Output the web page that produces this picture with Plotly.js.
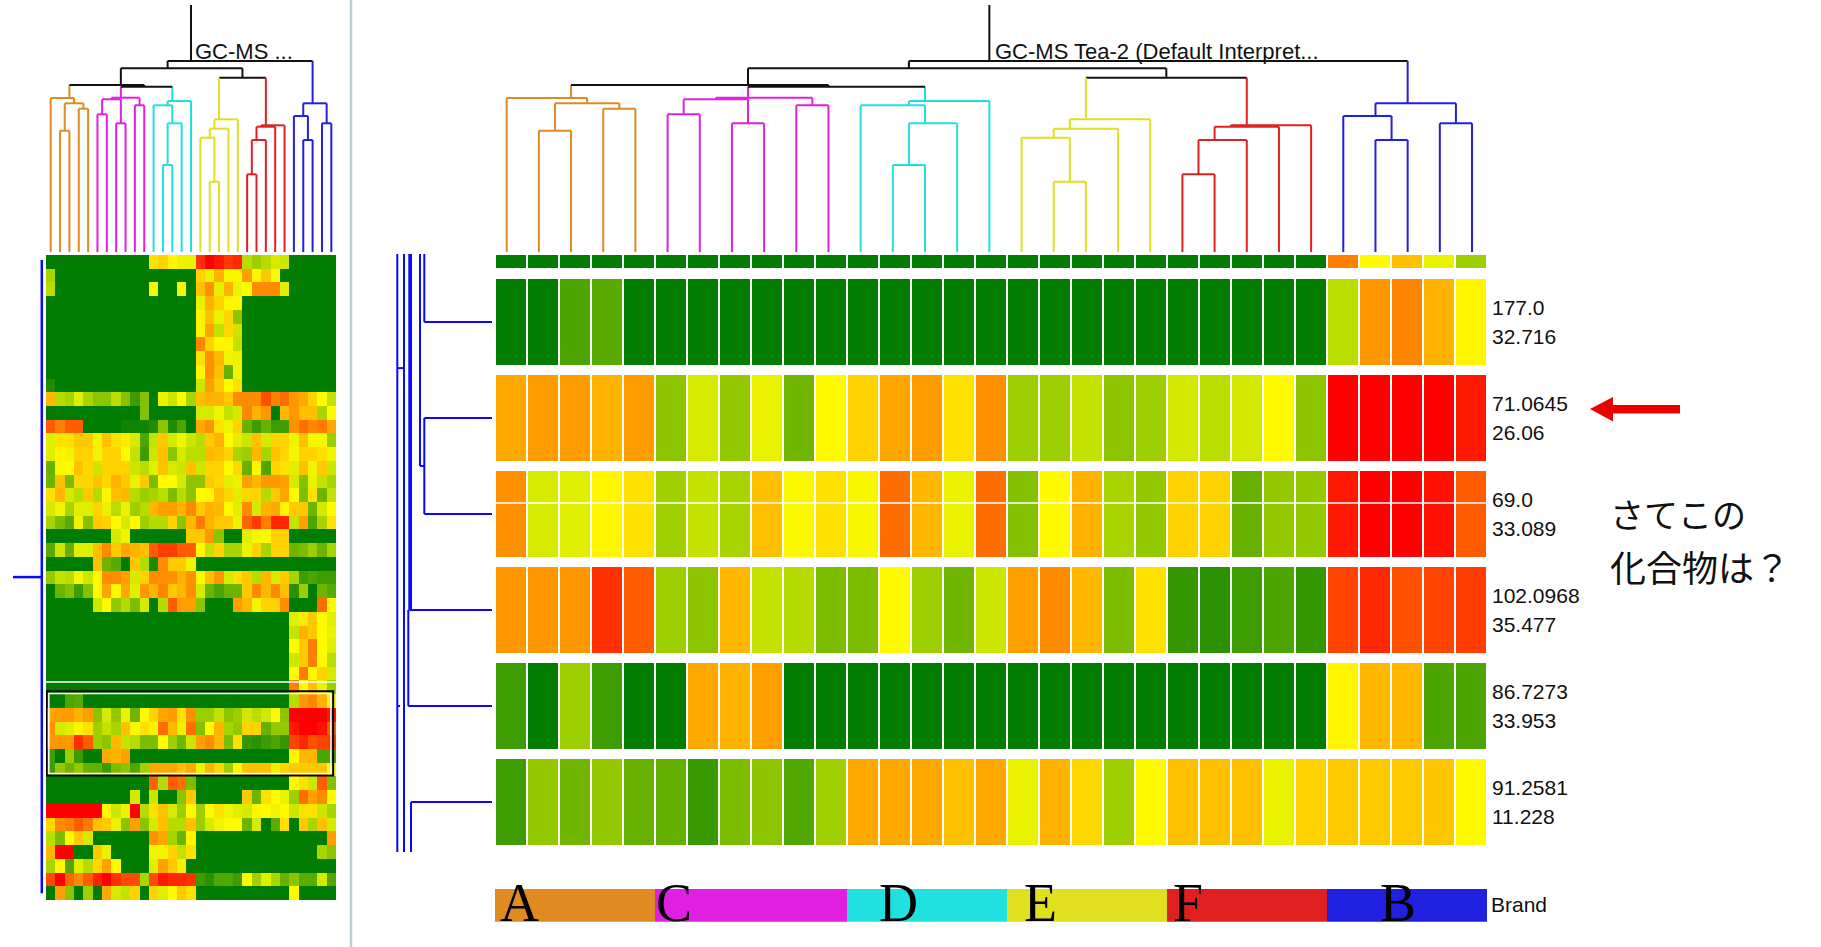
<!DOCTYPE html>
<html>
<head>
<meta charset="utf-8">
<script src="https://cdn.plot.ly/plotly-3.0.1.min.js"></script>
<style>
html,body{margin:0;padding:0;background:#fff;overflow:hidden}
#chart{width:1821px;height:947px}
</style>
</head>
<body>
<div id="chart"></div>
<script>
// ---------------- DATA ----------------
const brands = ['A', 'C', 'D', 'E', 'F', 'B'];
const brandOfColumn = [0,0,0,0,0, 1,1,1,1,1,1, 2,2,2,2,2, 3,3,3,3,3, 4,4,4,4,4, 5,5,5,5,5];
const brandColors = ['rgb(224,138,34)', 'rgb(224,32,224)', 'rgb(32,224,224)', 'rgb(224,224,32)', 'rgb(224,32,32)', 'rgb(32,32,224)'];

const mzLabels = ['177.0', '71.0645', '69.0', '102.0968', '86.7273', '91.2581'];
const rtLabels = ['32.716', '26.06', '33.089', '35.477', '33.953', '11.228'];

// colour scale (relative intensity 0..100)
const scaleValues = [0, 8, 15, 22, 30, 37, 43, 49, 55, 62, 67, 74, 79, 84, 89, 94, 100];
const scaleColors = ['rgb(0,124,0)', 'rgb(42,146,0)', 'rgb(76,165,0)', 'rgb(108,180,0)', 'rgb(140,197,0)',
  'rgb(168,212,0)', 'rgb(195,226,0)', 'rgb(224,238,0)', 'rgb(255,250,0)', 'rgb(255,215,0)', 'rgb(255,192,0)',
  'rgb(255,160,0)', 'rgb(255,140,0)', 'rgb(255,110,0)', 'rgb(255,80,0)', 'rgb(255,48,0)', 'rgb(255,0,0)'];

// main heatmap rows (31 samples)
const topStrip = [0,0,0,0,0, 0,0,0,0,0,0, 0,0,0,0,0, 0,0,0,0,0, 0,0,0,0,0, 81,55,67,51,34];
const row177 = [0,0,15,18,0, 0,0,0,0,0,0, 0,0,0,0,0, 0,0,0,0,0, 0,0,0,0,0, 41,76,80,70,56];
const row71  = [72,75,75,70,75, 30,47,32,51,23,55, 63,73,75,60,78, 34,34,43,30,34, 46,41,46,55,30, 100,100,100,100,97];
const row69  = [78,47,49,56,60, 35,43,37,67,54,60, 53,84,69,51,84, 28,55,70,37,32, 63,63,21,32,32, 97,100,100,98,87];
const row102 = [76,76,76,94,87, 34,30,69,43,40,26, 26,55,34,23,45, 74,79,69,26,60, 10,8,12,15,10, 91,95,89,91,92];
const row86  = [12,0,34,12,0, 0,72,70,74,0,0, 0,0,0,0,0, 0,0,0,0,0, 0,0,0,0,0, 56,69,69,15,15];
const row91  = [12,32,23,32,21, 20,11,26,30,16,35, 72,72,72,67,72, 51,70,62,34,55, 67,67,67,51,63, 65,65,65,66,55];

// overview heatmap: rows above and below the zoomed block
const overviewAbove = [
  [0,0,0,0,0, 0,0,0,0,0,0, 60,63,56,51,51, 94,100,97,93,95, 41,34,40,47,45, 0,0,0,0,0],
  [37,0,0,0,0, 0,0,0,0,0,0, 0,0,0,0,0, 63,51,70,53,53, 74,56,65,55,0, 0,0,0,0,0],
  [41,0,0,0,0, 0,0,0,0,0,0, 54,0,0,54,0, 67,78,50,70,52, 55,79,79,79,49, 0,0,0,0,0],
  [0,0,0,0,0, 0,0,0,0,0,0, 0,0,0,0,0, 51,70,63,56,56, 0,0,0,0,0, 0,0,0,0,0],
  [0,0,0,0,0, 0,0,0,0,0,0, 0,0,0,0,0, 56,67,51,62,30, 0,0,0,0,0, 0,0,0,0,0],
  [0,0,0,0,0, 0,0,0,0,0,0, 0,0,0,0,0, 56,73,43,62,45, 0,0,0,0,0, 0,0,0,0,0],
  [0,0,0,0,0, 0,0,0,0,0,0, 0,0,0,0,0, 80,63,56,56,43, 0,0,0,0,0, 0,0,0,0,0],
  [0,0,0,0,0, 0,0,0,0,0,0, 0,0,0,0,0, 60,78,69,52,51, 0,0,0,0,0, 0,0,0,0,0],
  [0,0,0,0,0, 0,0,0,0,0,0, 0,0,0,0,0, 56,78,67,21,52, 0,0,0,0,0, 0,0,0,0,0],
  [6,0,0,0,0, 0,0,0,0,0,0, 0,0,0,0,0, 45,74,65,55,60, 0,0,0,0,0, 0,0,0,0,0],
  [69,40,37,49,37, 30,30,41,28,12,28, 0,51,45,55,37, 67,70,70,65,79, 79,79,89,81,84, 76,72,63,55,43],
  [0,0,0,0,0, 0,0,0,0,0,28, 0,0,0,0,0, 47,47,52,43,47, 80,70,76,0,69, 76,67,67,37,55],
  [87,81,87,87,0, 0,0,0,3,3,3, 6,30,6,15,0, 72,78,60,52,63, 21,12,21,12,12, 78,84,80,82,72],
  [49,60,60,65,65, 52,67,60,58,47,15, 43,65,47,52,45, 40,65,70,55,49, 45,67,47,63,63, 52,67,53,53,34],
  [49,56,52,63,63, 52,63,63,55,43,12, 45,67,30,47,41, 41,69,67,63,37, 34,69,37,67,62, 53,63,63,60,52],
  [21,54,55,67,62, 45,63,63,63,45,41, 49,67,47,45,67, 45,63,63,55,62, 21,56,16,62,60, 49,67,52,65,45],
  [22,67,26,62,62, 67,62,70,65,51,65, 26,55,55,47,30, 30,65,62,49,51, 74,69,76,76,74, 47,28,51,43,37],
  [60,69,47,41,65, 40,56,67,69,40,34, 37,41,26,41,30, 55,56,67,62,49, 62,63,40,65,73, 55,26,60,22,43],
  [47,52,37,49,49, 63,51,41,51,34,40, 69,74,74,70,79, 65,70,69,55,49, 79,47,70,72,56, 65,65,22,47,55],
  [37,26,18,52,28, 65,63,55,47,55,34, 40,40,63,30,69, 82,70,65,65,51, 86,92,81,95,95, 43,74,15,37,60],
  [0,0,0,0,0, 0,0,47,52,0,0, 0,0,0,0,65, 65,76,30,0,0, 49,53,55,63,63, 0,0,0,0,0],
  [18,45,21,49,49, 67,79,65,73,70,67, 87,92,92,87,87, 55,43,63,37,37, 51,63,37,63,63, 22,26,34,22,37],
  [0,0,0,0,0, 67,22,18,0,65,40, 5,79,65,65,52, 0,0,0,0,0, 0,0,0,0,0, 0,0,0,0,0],
  [32,43,41,53,45, 55,79,79,74,47,63, 79,78,78,70,78, 55,67,76,47,60, 65,41,69,47,65, 37,12,15,12,12],
  [0,22,28,12,28, 55,73,56,72,49,76, 70,80,65,69,78, 47,22,15,22,22, 65,79,69,79,67, 8,34,0,22,18],
  [0,0,0,0,0, 45,55,32,40,26,47, 0,40,87,74,74, 30,0,0,0,74, 69,52,63,63,79, 0,0,0,84,55],
  [0,0,0,0,0, 0,0,0,0,0,0, 0,0,0,0,0, 0,0,0,0,0, 0,0,0,0,0, 49,58,65,55,49],
  [0,0,0,0,0, 0,0,0,0,0,0, 0,0,0,0,0, 0,0,0,0,0, 0,0,0,0,0, 43,70,65,55,51],
  [0,0,0,0,0, 0,0,0,0,0,0, 0,0,0,0,0, 0,0,0,0,0, 0,0,0,0,0, 55,65,81,55,49],
  [0,0,0,0,0, 0,0,0,0,0,0, 0,0,0,0,0, 0,0,0,0,0, 0,0,0,0,0, 45,65,81,55,41],
  [0,0,0,0,0, 0,0,0,0,0,0, 0,0,0,0,0, 0,0,0,0,0, 0,0,0,0,0, 55,82,55,63,47]
];
const overviewBelow = [
  [0,0,0,0,0, 0,0,0,0,0,0, 86,40,87,84,26, 0,0,0,0,0, 0,0,0,0,0, 55,60,45,87,28],
  [0,0,0,0,0, 0,0,0,0,47,0, 45,0,0,30,65, 0,0,0,0,0, 65,22,60,55,51, 34,84,74,79,55],
  [100,100,100,100,100, 100,55,45,51,100,40, 60,67,47,34,55, 34,55,60,52,49, 47,56,55,52,55, 45,60,60,45,37],
  [62,79,81,87,82, 67,65,51,30,74,30, 47,67,40,40,67, 34,47,52,55,55, 22,47,0,18,60, 0,65,37,67,47],
  [41,26,55,65,47, 0,0,0,0,0,0, 78,73,37,22,56, 0,0,0,0,0, 0,0,0,0,0, 0,0,0,0,74],
  [69,100,100,0,0, 65,51,0,0,0,0, 52,52,63,43,60, 0,0,0,0,0, 0,0,0,0,0, 0,0,0,37,30],
  [37,56,16,49,40, 62,74,55,0,0,0, 49,74,65,58,0, 0,0,0,0,0, 0,0,0,0,0, 0,0,0,0,0],
  [90,100,86,79,87, 96,100,94,90,90,37, 90,97,95,95,94, 12,8,16,16,12, 55,35,49,37,21, 30,18,18,47,16],
  [0,74,30,0,34, 0,72,47,43,63,0, 63,49,55,65,60, 0,0,0,0,0, 0,0,0,0,0, 55,0,0,0,0]
];

// column dendrogram: [childA, childB, height] (leaves 0..30, merges numbered from 31)
const colLinkage = [
  [1,2,121.3],[3,4,143.3],[31,32,148.7],[0,33,154],
  [5,6,137.7],[7,8,128.7],[9,10,146.7],[35,36,152.7],[38,37,154.3],
  [12,13,87],[40,14,128.7],[11,41,146.7],[42,15,151],
  [39,43,165.3],[34,44,167],
  [17,18,70.3],[16,46,114.3],[47,19,123.3],[48,20,132.7],
  [21,22,77.7],[50,23,112],[51,24,125.3],[52,25,126.7],
  [49,53,174.3],[45,54,183.7],
  [27,28,112],[26,56,136],[29,30,128.7],[57,58,148.7],
  [55,59,191]
];
const rootTop = 247;

// row dendrogram beside the zoomed heatmap: [dist0, row0, dist1, row1]
const rowDendroLinks = [
  [94.7,-0.71,94.7,5.52],[88,-0.71,88,5.52],[82.7,-0.71,82.7,3],[81,-0.71,81,3],
  [83.7,3,83.7,4],[81,5,81,5.52],[72,-0.71,72,1.5],[67.7,-0.71,67.7,0],[67.7,1,67.7,2],
  [67.7,0,0,0],[67.7,1,0,1],[67.7,2,0,2],[72,1.5,67.7,1.5],[82.7,3,0,3],[83.7,4,0,4],[81,5,0,5],
  [94.7,0.48,88,0.48],[94.7,4,92,4]
];
// row dendrogram beside the overview: [dist0, row0, dist1, row1]
const overviewRowLinks = [[4.2,-0.14,4.2,46.0],[4.2,22.97,33,22.97]];

// ---------------- BUILD ----------------
const W = 1821, H = 947;
const px = x => x / W;
const py = y => 1 - y / H;
const dom = (top, bottom) => [py(bottom), py(top)];

const nCols = brandOfColumn.length;
const colIdx = brandOfColumn.map((_, i) => i);
const colorscale = scaleValues.map((v, i) => [v / 100, scaleColors[i]]);
const mainRows = [row177, row71, row69, row102, row86, row91];
const overviewZ = overviewAbove.concat([topStrip], mainRows, overviewBelow);

const traces = [];
const hm = (z, xa, ya, extra) => Object.assign({
  type: 'heatmap', z: z, x: colIdx, y: z.map((_, i) => i), xaxis: xa, yaxis: ya,
  colorscale: colorscale, zmin: 0, zmax: 100, showscale: false, hoverinfo: 'skip'
}, extra || {});

traces.push(hm(mainRows, 'x', 'y', {xgap: 2, ygap: 10}));
traces.push(hm([topStrip], 'x', 'y2', {xgap: 2}));
traces.push(hm(overviewZ, 'x5', 'y5'));

// brand bar
const nB = brands.length;
const brandScale = [];
brandColors.forEach((c, i) => { brandScale.push([i / nB, c]); brandScale.push([(i + 1) / nB, c]); });
traces.push({type: 'heatmap', z: [brandOfColumn], x: colIdx, y: [0], xaxis: 'x', yaxis: 'y4',
  colorscale: brandScale, zmin: -0.5, zmax: nB - 0.5, showscale: false, hoverinfo: 'skip'});

// dendrograms
function dendroSegments(linkage) {
  const nodes = [];
  for (let i = 0; i < nCols; i++) nodes.push({x: i, h: 0, leaves: [i]});
  linkage.forEach(([a, b, h]) => {
    const leaves = nodes[a].leaves.concat(nodes[b].leaves);
    const x = leaves.reduce((s, v) => s + v, 0) / leaves.length;
    nodes.push({x: x, h: h, leaves: leaves, a: a, b: b});
  });
  const colorOf = n => {
    const g = new Set(n.leaves.map(l => brandOfColumn[l]));
    return g.size === 1 ? brandColors[[...g][0]] : '#111111';
  };
  const segs = {};
  const add = (c, x0, y0, x1, y1) => {
    segs[c] = segs[c] || {x: [], y: []};
    segs[c].x.push(x0, x1, null); segs[c].y.push(y0, y1, null);
  };
  for (let k = nCols; k < nodes.length; k++) {
    const n = nodes[k], A = nodes[n.a], B = nodes[n.b];
    add(colorOf(n), A.x, n.h, B.x, n.h);
    add(colorOf(A), A.x, A.h, A.x, n.h);
    add(colorOf(B), B.x, B.h, B.x, n.h);
  }
  const root = nodes[nodes.length - 1];
  add('#111111', root.x, root.h, root.x, rootTop);
  return segs;
}
const segs = dendroSegments(colLinkage);
Object.keys(segs).forEach(c => {
  traces.push({type: 'scatter', mode: 'lines', x: segs[c].x, y: segs[c].y, xaxis: 'x3', yaxis: 'y3',
    line: {color: c, width: 2}, hoverinfo: 'skip'});
  traces.push({type: 'scatter', mode: 'lines', x: segs[c].x, y: segs[c].y, xaxis: 'x5', yaxis: 'y6',
    line: {color: c, width: 2}, hoverinfo: 'skip'});
});

function linkTrace(links, xa, ya, width) {
  const x = [], y = [];
  links.forEach(([d0, r0, d1, r1]) => { x.push(d0, d1, null); y.push(r0, r1, null); });
  return {type: 'scatter', mode: 'lines', x: x, y: y, xaxis: xa, yaxis: ya,
    line: {color: 'rgb(10,10,250)', width: width}, hoverinfo: 'skip'};
}
traces.push(linkTrace(rowDendroLinks, 'x7', 'y', 2));
traces.push(linkTrace(overviewRowLinks, 'x8', 'y5', 2.5));

// ---------------- LAYOUT ----------------
const rowTopPx = 254, rowBotPx = 852, row0Px = 322, rowPitch = 96;
const hidden = {visible: false, fixedrange: true};
const layout = {
  width: W, height: H, margin: {l: 0, r: 0, t: 0, b: 0},
  paper_bgcolor: 'white', plot_bgcolor: 'rgba(0,0,0,0)', showlegend: false,
  font: {family: 'Liberation Sans, Arial, sans-serif', color: '#111'},
  xaxis: Object.assign({domain: [px(495), px(1487)], range: [-0.5, nCols - 0.5], anchor: 'y'}, hidden),
  yaxis: Object.assign({domain: dom(rowTopPx, rowBotPx),
    range: [(rowBotPx - row0Px) / rowPitch, -(row0Px - rowTopPx) / rowPitch], anchor: 'x'}, hidden),
  yaxis2: Object.assign({domain: dom(255, 268), range: [0.5, -0.5], anchor: 'x'}, hidden),
  xaxis3: Object.assign({domain: [px(490.6), px(1488.1)], range: [-0.5, nCols - 0.5], anchor: 'y3'}, hidden),
  yaxis3: Object.assign({domain: dom(0, 252), range: [0, 252], anchor: 'x3'}, hidden),
  yaxis4: Object.assign({domain: dom(889, 921.7), range: [-0.5, 0.5], anchor: 'x'}, hidden),
  xaxis5: Object.assign({domain: [px(46), px(336)], range: [-0.5, nCols - 0.5], anchor: 'y5'}, hidden),
  yaxis5: Object.assign({domain: dom(255, 900), range: [overviewZ.length - 0.5, -0.5], anchor: 'x5'}, hidden),
  yaxis6: Object.assign({domain: dom(0, 252), range: [0, 252], anchor: 'x5'}, hidden),
  xaxis7: Object.assign({domain: [px(380), px(492)], range: [112, 0], anchor: 'y'}, hidden),
  xaxis8: Object.assign({domain: [px(0), px(46)], range: [46, 0], anchor: 'y5'}, hidden),
  annotations: [],
  shapes: []
};

const ann = (text, x, y, size, extra) => Object.assign({
  text: text, xref: 'paper', yref: 'paper', x: px(x), y: py(y), xanchor: 'left', yanchor: 'middle',
  showarrow: false, font: {size: size, color: '#111'}
}, extra || {});

layout.annotations.push(ann('GC-MS Tea-2 (Default Interpret...', 993, 51.5, 22));
layout.annotations.push(ann('GC-MS ...', 193, 51.5, 22));
mzLabels.forEach((t, i) => {
  layout.annotations.push({text: t, xref: 'paper', x: px(1490), yref: 'y', y: i, yshift: 14.5,
    xanchor: 'left', yanchor: 'middle', showarrow: false, font: {size: 21, color: '#111'}});
  layout.annotations.push({text: rtLabels[i], xref: 'paper', x: px(1490), yref: 'y', y: i, yshift: -14.5,
    xanchor: 'left', yanchor: 'middle', showarrow: false, font: {size: 21, color: '#111'}});
});
const brandLetterPx = [519, 674, 898, 1040, 1188, 1398];
brands.forEach((b, i) => {
  layout.annotations.push(ann(b, brandLetterPx[i], 903, 54,
    {xanchor: 'center', font: {size: 54, color: '#000', family: 'Liberation Serif, Times New Roman, serif'}}));
});
layout.annotations.push(ann('Brand', 1489, 904, 21));
layout.annotations.push(ann('さてこの', 1608, 513, 34, {font: {size: 34, color: '#111', family: 'Noto Sans CJK JP'}}));
layout.annotations.push(ann('化合物は？', 1608, 566, 36, {font: {size: 36, color: '#111', family: 'Noto Sans CJK JP'}}));

// separator line
layout.shapes.push({type: 'line', xref: 'paper', yref: 'paper', x0: px(351), x1: px(351), y0: 0, y1: 1,
  line: {color: 'rgb(184,204,210)', width: 2.5}});
// white splitter lines
layout.shapes.push({type: 'line', xref: 'x', yref: 'y', x0: -0.5, x1: nCols - 0.5, y0: 1.885, y1: 1.885,
  line: {color: 'white', width: 1.5}});
layout.shapes.push({type: 'line', xref: 'x5', yref: 'y5', x0: -0.5, x1: nCols - 0.5, y0: 30.62, y1: 30.62,
  line: {color: 'white', width: 1.5}});
// selection box on overview (rows of the zoomed block)
const selFirst = overviewAbove.length + 1, selLast = overviewAbove.length + mainRows.length;
layout.shapes.push({type: 'rect', xref: 'x5', yref: 'y5', x0: -0.45, x1: 30.2, y0: selFirst - 0.72, y1: selLast + 0.42,
  line: {color: 'black', width: 2}});
layout.shapes.push({type: 'rect', xref: 'x5', yref: 'y5', x0: -0.2, x1: 29.95, y0: selFirst - 0.55, y1: selLast + 0.28,
  line: {color: 'white', width: 1.5}});
// red arrow
const arrowPts = [[1590,409],[1613,397],[1613,405],[1680,405],[1680,413.5],[1613,413.5],[1613,421.5]];
layout.shapes.push({type: 'path', xref: 'paper', yref: 'paper',
  path: 'M ' + arrowPts.map(p => px(p[0]) + ',' + py(p[1])).join(' L ') + ' Z',
  fillcolor: 'rgb(235,0,0)', line: {width: 0}});

Plotly.newPlot('chart', traces, layout, {staticPlot: true, displayModeBar: false});
</script>
</body>
</html>
